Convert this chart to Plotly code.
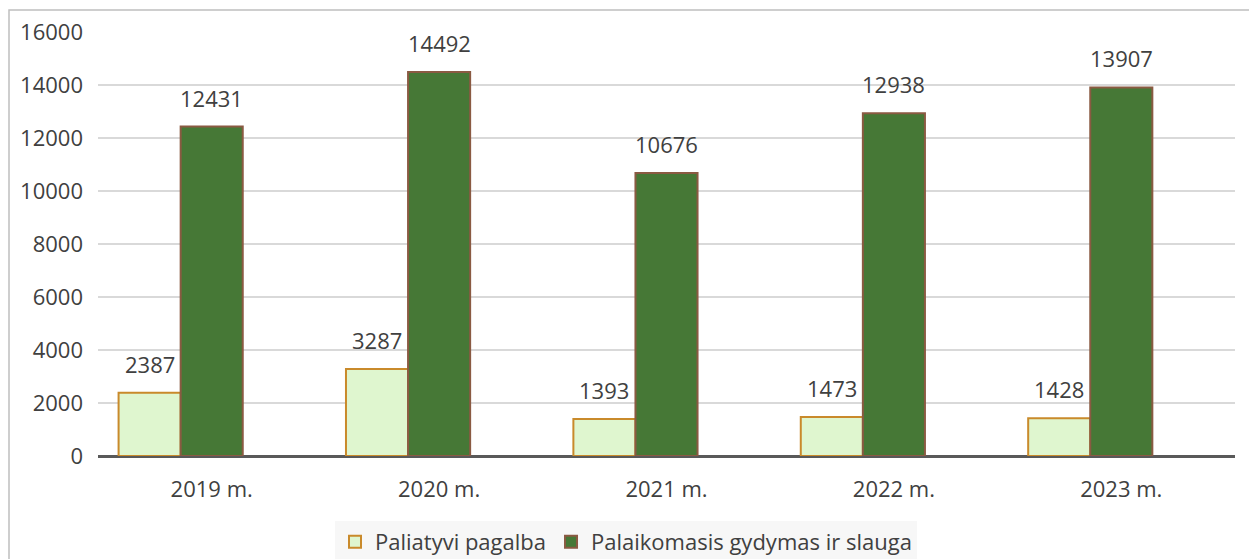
import plotly.graph_objects as go

years = ["2019 m.", "2020 m.", "2021 m.", "2022 m.", "2023 m."]
paliatyvi = [2387, 3287, 1393, 1473, 1428]
palaikomasis = [12431, 14492, 10676, 12938, 13907]
y_ticks = [0, 2000, 4000, 6000, 8000, 10000, 12000, 14000, 16000]

FONT = "Open Sans, Segoe UI, sans-serif"
TEXT = "#404040"

W, H = 1249, 559
L, R, T, B = 98, 14, 32, 103
pw, ph = W - L - R, H - T - B

# bar width as a fraction of one category; the Excel source left room for a
# third (empty) series, so the two bars sit left of the category centre
bw = 0.273
cat_px = pw / len(years)

fig = go.Figure()

fig.add_trace(go.Bar(
    x=years, y=paliatyvi, name="Paliatyvi pagalba",
    width=bw, offset=-1.5 * bw,
    marker=dict(color="#DFF6CF", line=dict(color="#C98A2B", width=2)),
))
fig.add_trace(go.Bar(
    x=years, y=palaikomasis, name="Palaikomasis gydymas ir slauga",
    width=bw, offset=-0.5 * bw,
    marker=dict(color="#467836", line=dict(color="#8A5A42", width=2)),
))

# value labels above bars
for series, shift in ((paliatyvi, -bw * cat_px), (palaikomasis, 0)):
    for yr, v in zip(years, series):
        fig.add_annotation(
            x=yr, y=v, text=str(v), showarrow=False,
            xshift=shift, yshift=12, yanchor="bottom",
            font=dict(family=FONT, size=22, color=TEXT),
        )

# outer chart frame (only left and top edges fall inside the picture)
fig.add_shape(
    type="rect", xref="paper", yref="paper",
    x0=(9 - L) / pw, x1=(W + 20 - L) / pw,
    y0=(T + ph - (H + 20)) / ph, y1=(T + ph - 10) / ph,
    line=dict(color="#BFBFBF", width=1.5), fillcolor="rgba(0,0,0,0)",
    layer="below",
)

fig.update_layout(
    width=W, height=H,
    margin=dict(l=L, r=R, t=T, b=B, autoexpand=False),
    paper_bgcolor="white", plot_bgcolor="white",
    barmode="overlay",
    font=dict(family=FONT, size=22, color=TEXT),
    showlegend=True,
    legend=dict(
        orientation="h", x=(626 - L) / pw, xanchor="center",
        y=(T + ph - 521) / ph, yanchor="top",
        bgcolor="#F7F7F7", font=dict(family=FONT, size=22, color=TEXT),
        itemwidth=30, traceorder="normal",
    ),
    xaxis=dict(
        showgrid=False, showline=False, ticks="", ticklabelstandoff=18,
        tickfont=dict(family=FONT, size=22, color=TEXT),
    ),
    yaxis=dict(
        range=[0, 16000], tickvals=y_ticks, tickformat="d",
        showgrid=True, gridcolor="#D9D9D9", gridwidth=1.5,
        zeroline=True, zerolinecolor="#595959", zerolinewidth=2.5,
        showline=False, ticks="", ticklabelstandoff=14,
        tickfont=dict(family=FONT, size=22, color=TEXT),
    ),
)

fig.write_html(
    "out.html",
    config={"displayModeBar": False},
    post_script="document.body.style.margin='0';",
)
